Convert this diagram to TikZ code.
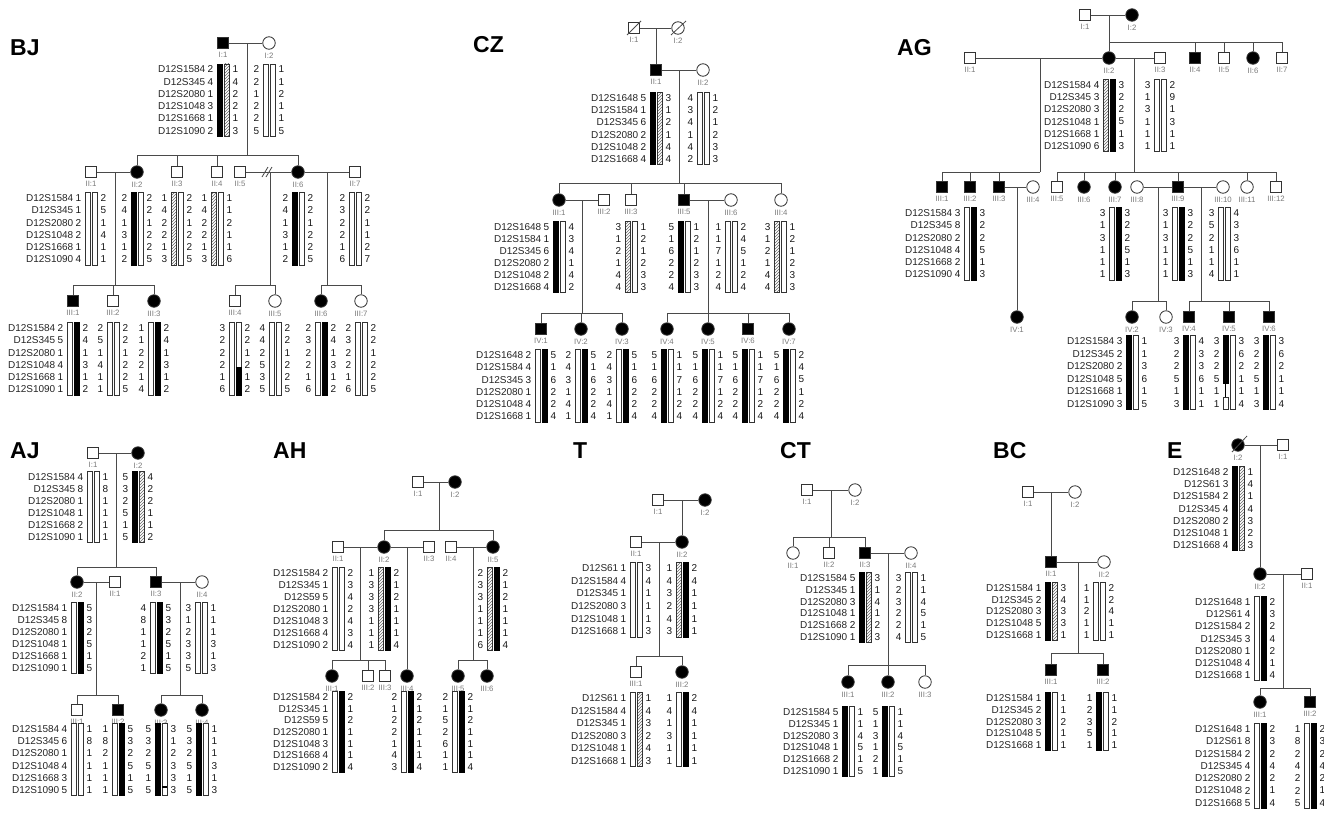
\documentclass[tikz,border=0pt]{standalone}
\usepackage{fontspec}
\setmainfont{Liberation Sans}
\usepackage{tikz}
\usetikzlibrary{patterns}
\usepackage{xcolor}
\definecolor{linegray}{HTML}{4A4A4A}
\definecolor{labgray}{HTML}{7A7A7A}

\tikzset{
  link/.style={draw=linegray, line width=0.8pt},
  sq/.style={rectangle, draw=black!80, line width=0.8pt, fill=white, minimum size=11.5pt, inner sep=0pt},
  ci/.style={circle, draw=black!80, line width=0.8pt, fill=white, minimum size=12.5pt, inner sep=0pt},
  aff/.style={fill=black},
  idlab/.style={font=\fontsize{7.8}{7.8}\selectfont, text=labgray, inner sep=0pt, label distance=3pt},
  allele/.style={font=\fontsize{10}{10}\selectfont, inner sep=0pt, text=black!90},
  mkname/.style={font=\fontsize{10}{10}\selectfont, inner sep=0pt, text=black!85, anchor=east},
  ttl/.style={font=\fontsize{23}{23}\selectfont\bfseries, anchor=base west, inner sep=0pt},
  wht/.style={draw=black!80, line width=0.6pt, fill=white},
  blk/.style={draw=black, line width=0.6pt, fill=black},
  hat/.style={draw=black!80, line width=0.6pt, pattern=north east lines, pattern color=black!60},
  nobar/.style={draw=none},
}

\def\mkA{D12S1584,D12S345,D12S2080,D12S1048,D12S1668,D12S1090}
\def\mkB{D12S1648,D12S1584,D12S345,D12S2080,D12S1048,D12S1668}
\def\mkC{D12S1584,D12S345,D12S59,D12S2080,D12S1048,D12S1668,D12S1090}
\def\mkD{D12S61,D12S1584,D12S345,D12S2080,D12S1048,D12S1668}
\def\mkE{D12S1584,D12S345,D12S2080,D12S1048,D12S1668}
\def\mkF{D12S1648,D12S61,D12S1584,D12S345,D12S2080,D12S1048,D12S1668}

\newcommand{\person}[5]{\node[#1, label={[idlab]below:{#5}}] (#2) at (#3,#4) {};}
\newcommand{\mks}[3]{\foreach \m [count=\i from 0] in #3 {\node[mkname] at (#1-17.5,#2+\i*\hrow) {\m};}}
\newcommand{\hap}[6]{%
  \draw[#3] (#1-6,#2-5.5) rectangle (#1-1,#2+\nrow*\hrow-\hrow+5.5);
  \draw[#4] (#1+1,#2-5.5) rectangle (#1+6,#2+\nrow*\hrow-\hrow+5.5);
  \foreach \a [count=\i from 0] in {#5} {\node[allele, anchor=east] at (#1-9.5,#2+\i*\hrow) {\a};}
  \foreach \a [count=\i from 0] in {#6} {\node[allele, anchor=west] at (#1+9.5,#2+\i*\hrow) {\a};}
}

\begin{document}
\begin{tikzpicture}[x=1pt, y=-1pt]
\path[fill=white] (0,0) rectangle (1324,814);
\useasboundingbox (0,0) rectangle (1324,814);

% BJ
\node[ttl] (bjT) at (10,55) {BJ};
\def\nrow{6}\def\hrow{12.3}
\coordinate (bjm1) at (247,43); \coordinate (bjs1) at (247,155);
\coordinate (bjm2) at (115,172); \coordinate (bjs2) at (115,285);
\coordinate (bjm3) at (270,172); \coordinate (bjs3) at (270,285);
\coordinate (bjm4) at (327,172); \coordinate (bjs4) at (327,285);
\person{sq,aff}{bjI1}{223}{43}{I:1}
\person{ci}{bjI2}{269}{43}{I:2}
\draw[link] (bjI1) -- (bjI2);
\draw[link] (bjm1) -- (bjs1);
\mks{223}{69.3}{\mkA}
\hap{223}{69.3}{blk}{hat}{2,4,1,3,1,2}{1,4,2,2,1,3}
\hap{269}{69.3}{wht}{wht}{2,2,1,2,2,5}{1,1,2,1,1,5}
\person{sq}{bjII1}{91}{172}{II:1}
\person{ci,aff}{bjII2}{137}{172}{II:2}
\person{sq}{bjII3}{177}{172}{II:3}
\person{sq}{bjII4}{217}{172}{II:4}
\person{sq}{bjII5}{240}{172}{II:5}
\person{ci,aff}{bjII6}{298}{172}{II:6}
\person{sq}{bjII7}{355}{172}{II:7}
\foreach \c in {bjII2,bjII3,bjII4,bjII6} \draw[link] (\c.north) |- (bjs1);
\draw[link] (bjII1) -- (bjII2);
\draw[link] (bjII5) -- (bjII6);
\draw[link] (bjII6) -- (bjII7);
\draw[link] (262,177) -- (268,167) (266,177) -- (272,167);
\draw[link] (bjm2) -- (bjs2);
\draw[link] (bjm3) -- (bjs3);
\draw[link] (bjm4) -- (bjs4);
\mks{91}{198}{\mkA}
\hap{91}{198}{wht}{wht}{1,1,2,2,1,4}{2,5,1,4,1,1}
\hap{137}{198}{blk}{wht}{2,4,1,3,1,2}{2,2,1,2,2,5}
\hap{177}{198}{hat}{wht}{1,4,2,2,1,3}{2,2,1,2,2,5}
\hap{217}{198}{hat}{wht}{1,4,2,2,1,3}{1,1,2,1,1,6}
\hap{298}{198}{blk}{wht}{2,4,1,3,1,2}{2,2,1,2,2,5}
\hap{355}{198}{wht}{wht}{2,3,2,2,1,6}{2,2,1,1,2,7}
\person{sq,aff}{bjIII1}{73}{301}{III:1}
\person{sq}{bjIII2}{113}{301}{III:2}
\person{ci,aff}{bjIII3}{154}{301}{III:3}
\person{sq}{bjIII4}{235}{301}{III:4}
\person{ci}{bjIII5}{275}{301}{III:5}
\person{ci,aff}{bjIII6}{321}{301}{III:6}
\person{ci}{bjIII7}{361}{301}{III:7}
\foreach \c in {bjIII1,bjIII2,bjIII3} \draw[link] (\c.north) |- (bjs2);
\foreach \c in {bjIII4,bjIII5} \draw[link] (\c.north) |- (bjs3);
\foreach \c in {bjIII6,bjIII7} \draw[link] (\c.north) |- (bjs4);
\mks{73}{328}{\mkA}
\hap{73}{328}{wht}{blk}{2,5,1,4,1,1}{2,4,1,3,1,2}
\hap{113}{328}{wht}{wht}{2,5,1,4,1,1}{2,2,1,2,2,5}
\hap{154}{328}{wht}{blk}{1,1,2,2,1,4}{2,4,1,3,1,2}
\hap{235}{328}{wht}{wht}{3,2,2,2,1,6}{2,2,1,2,1,2}
\draw[blk] (236,367) rectangle (241,395);
\hap{275}{328}{wht}{wht}{4,4,2,5,3,5}{2,2,1,2,2,5}
\hap{321}{328}{wht}{blk}{2,3,2,2,1,6}{2,4,1,3,1,2}
\hap{361}{328}{wht}{wht}{2,3,2,2,1,6}{2,2,1,2,2,5}

% CZ
\node[ttl] (czT) at (473,52) {CZ};
\def\hrow{12.2}
\coordinate (czm1) at (656,28);
\coordinate (czm2) at (679,70); \coordinate (czs2) at (679,183);
\coordinate (czm3) at (582,200); \coordinate (czs3) at (582,313);
\coordinate (czm4) at (708,200); \coordinate (czs4) at (708,313);
\person{sq}{czI1}{634}{28}{I:1}
\person{ci}{czI2}{678}{28}{I:2}
\draw[link] (czI1) -- (czI2);
\draw[link] (627,35) -- (641,21) (671,35) -- (686,21);
\person{sq,aff}{czII1}{656}{70}{II:1}
\person{ci}{czII2}{703}{70}{II:2}
\draw[link] (czm1) -- (czII1);
\draw[link] (czII1) -- (czII2);
\draw[link] (czm2) -- (czs2);
\mks{656}{98}{\mkB}
\hap{656}{98}{blk}{hat}{5,1,6,2,2,4}{3,1,2,1,4,4}
\hap{703}{98}{wht}{wht}{4,3,4,1,4,2}{1,2,1,2,3,3}
\person{ci,aff}{czIII1}{559}{200}{III:1}
\person{sq}{czIII2}{604}{200}{III:2}
\person{sq}{czIII3}{631}{200}{III:3}
\person{sq,aff}{czIII5}{684}{200}{III:5}
\person{ci}{czIII6}{731}{200}{III:6}
\person{ci}{czIII4}{781}{200}{III:4}
\foreach \c in {czIII1,czIII3,czIII5,czIII4} \draw[link] (\c.north) |- (czs2);
\draw[link] (czIII1) -- (czIII2);
\draw[link] (czIII5) -- (czIII6);
\draw[link] (czm3) -- (czs3);
\draw[link] (czm4) -- (czs4);
\def\hrow{12}
\mks{559}{227}{\mkB}
\hap{559}{227}{blk}{wht}{5,1,6,2,2,4}{4,3,4,1,4,2}
\hap{631}{227}{hat}{wht}{3,1,2,1,4,4}{1,2,1,2,3,3}
\hap{684}{227}{blk}{wht}{5,1,6,2,2,4}{1,2,1,2,3,3}
\hap{731}{227}{wht}{wht}{1,1,7,1,2,4}{2,4,5,1,2,4}
\hap{780}{227}{hat}{wht}{3,1,2,1,4,4}{1,2,1,2,3,3}
\person{sq,aff}{czIV1}{541}{329}{IV:1}
\person{ci,aff}{czIV2}{581}{329}{IV:2}
\person{ci,aff}{czIV3}{622}{329}{IV:3}
\person{ci,aff}{czIV4}{667}{329}{IV:4}
\person{ci,aff}{czIV5}{708}{329}{IV:5}
\person{sq,aff}{czIV6}{748}{329}{IV:6}
\person{ci,aff}{czIV7}{789}{329}{IV:7}
\foreach \c in {czIV1,czIV2,czIV3} \draw[link] (\c.north) |- (czs3);
\foreach \c in {czIV4,czIV5,czIV6,czIV7} \draw[link] (\c.north) |- (czs4);
\def\hrow{12.3}
\mks{541}{355}{\mkB}
\hap{541}{355}{wht}{blk}{2,4,3,1,4,1}{5,1,6,2,2,4}
\hap{581}{355}{wht}{blk}{2,4,3,1,4,1}{5,1,6,2,2,4}
\hap{622}{355}{wht}{blk}{2,4,3,1,4,1}{5,1,6,2,2,4}
\hap{667}{355}{blk}{wht}{5,1,6,2,2,4}{1,1,7,1,2,4}
\hap{708}{355}{blk}{wht}{5,1,6,2,2,4}{1,1,7,1,2,4}
\hap{748}{355}{blk}{wht}{5,1,6,2,2,4}{1,1,7,1,2,4}
\hap{789}{355}{blk}{wht}{5,1,6,2,2,4}{2,4,5,1,2,4}

% AG
\node[ttl] (agT) at (897,55) {AG};
\def\hrow{12.2}
\coordinate (agm1) at (1109,15); \coordinate (ags1) at (1109,42);
\coordinate (agm2) at (1040,58); \coordinate (ags2) at (1040,172);
\coordinate (agm3) at (1134,58); \coordinate (ags3) at (1134,172);
\coordinate (agm4) at (1017,187);
\coordinate (agm5) at (1158,187); \coordinate (ags5) at (1158,301);
\coordinate (agm6) at (1201,187); \coordinate (ags6) at (1201,301);
\person{sq}{agI1}{1085}{15}{I:1}
\person{ci,aff}{agI2}{1132}{15}{I:2}
\draw[link] (agI1) -- (agI2);
\draw[link] (agm1) -- (ags1);
\person{sq}{agII1}{970}{58}{II:1}
\person{ci,aff}{agII2}{1109}{58}{II:2}
\person{sq}{agII3}{1160}{58}{II:3}
\person{sq,aff}{agII4}{1195}{58}{II:4}
\person{sq}{agII5}{1224}{58}{II:5}
\person{ci,aff}{agII6}{1253}{58}{II:6}
\person{sq}{agII7}{1282}{58}{II:7}
\foreach \c in {agII2,agII4,agII5,agII6,agII7} \draw[link] (\c.north) |- (ags1);
\draw[link] (agII1) -- (agII2);
\draw[link] (agII2) -- (agII3);
\draw[link] (agm2) -- (ags2);
\draw[link] (agm3) -- (ags3);
\mks{1109}{85}{\mkA}
\hap{1109}{85}{hat}{blk}{4,3,3,1,1,6}{3,2,2,5,1,3}
\hap{1160}{85}{wht}{wht}{3,1,3,1,1,1}{2,9,1,3,1,1}
\person{sq,aff}{agIII1}{942}{187}{III:1}
\person{sq,aff}{agIII2}{970}{187}{III:2}
\person{sq,aff}{agIII3}{999}{187}{III:3}
\person{ci}{agIII4}{1033}{187}{III:4}
\person{sq}{agIII5}{1057}{187}{III:5}
\person{ci,aff}{agIII6}{1084}{187}{III:6}
\person{ci,aff}{agIII7}{1115}{187}{III:7}
\person{ci}{agIII8}{1137}{187}{III:8}
\person{sq,aff}{agIII9}{1178}{187}{III:9}
\person{ci}{agIII10}{1223}{187}{III:10}
\person{ci}{agIII11}{1247}{187}{III:11}
\person{sq}{agIII12}{1276}{187}{III:12}
\foreach \c in {agIII1,agIII2,agIII3} \draw[link] (\c.north) |- (ags2);
\foreach \c in {agIII5,agIII6,agIII7,agIII9,agIII11,agIII12} \draw[link] (\c.north) |- (ags3);
\draw[link] (agIII3) -- (agIII4);
\draw[link] (agIII8) -- (agIII9);
\draw[link] (agIII9) -- (agIII10);
\def\hrow{12.3}
\mks{970}{213}{\mkA}
\hap{970}{213}{wht}{blk}{3,8,2,4,2,4}{3,2,2,5,1,3}
\hap{1115}{213}{wht}{blk}{3,1,3,1,1,1}{3,2,2,5,1,3}
\hap{1178}{213}{wht}{blk}{3,1,3,1,1,1}{3,2,2,5,1,3}
\hap{1224}{213}{wht}{wht}{3,5,2,1,1,4}{4,3,3,6,1,1}
\person{ci,aff}{agIV1}{1017}{317}{IV:1}
\person{ci,aff}{agIV2}{1132}{317}{IV:2}
\person{ci}{agIV3}{1166}{317}{IV:3}
\person{sq,aff}{agIV4}{1189}{317}{IV:4}
\person{sq,aff}{agIV5}{1229}{317}{IV:5}
\person{sq,aff}{agIV6}{1269}{317}{IV:6}
\draw[link] (agm4) -- (agIV1);
\draw[link] (agm5) -- (ags5);
\draw[link] (agm6) -- (ags6);
\foreach \c in {agIV2,agIV3} \draw[link] (\c.north) |- (ags5);
\foreach \c in {agIV4,agIV5,agIV6} \draw[link] (\c.north) |- (ags6);
\def\hrow{12.6}
\mks{1132}{341}{\mkA}
\hap{1132}{341}{blk}{wht}{3,2,2,5,1,3}{1,1,3,6,1,5}
\hap{1189}{341}{blk}{wht}{3,2,2,5,1,3}{4,3,3,6,1,1}
\hap{1229}{341}{nobar}{wht}{3,2,2,5,1,1}{3,6,2,1,1,4}
\draw[blk] (1223,335.5) rectangle (1228,383);
\draw[line width=0.6pt] (1225.5,383) -- (1225.5,397);
\draw[wht] (1223,397) rectangle (1228,409.5);
\hap{1269}{341}{blk}{wht}{3,2,2,5,1,3}{3,6,2,1,1,4}

% AJ
\node[ttl] (ajT) at (10,458) {AJ};
\def\nrow{6}\def\hrow{12}
\coordinate (ajm1) at (116,453); \coordinate (ajs1) at (116,567);
\coordinate (ajm2) at (96,582); \coordinate (ajs2) at (96,695);
\coordinate (ajm3) at (180,582); \coordinate (ajs3) at (180,695);
\person{sq}{ajI1}{93}{453}{I:1}
\person{ci,aff}{ajI2}{138}{453}{I:2}
\draw[link] (ajI1) -- (ajI2);
\draw[link] (ajm1) -- (ajs1);
\mks{93}{477}{\mkA}
\hap{93}{477}{wht}{wht}{4,8,1,1,2,1}{1,8,1,1,1,1}
\hap{138}{477}{blk}{hat}{5,3,2,5,1,5}{4,2,2,1,1,2}
\person{ci,aff}{ajII2}{77}{582}{II:2}
\person{sq}{ajII1}{115}{582}{II:1}
\person{sq,aff}{ajII3}{156}{582}{II:3}
\person{ci}{ajII4}{202}{582}{II:4}
\foreach \c in {ajII2,ajII3} \draw[link] (\c.north) |- (ajs1);
\draw[link] (ajII2) -- (ajII1);
\draw[link] (ajII3) -- (ajII4);
\draw[link] (ajm2) -- (ajs2);
\draw[link] (ajm3) -- (ajs3);
\mks{77}{608}{\mkA}
\hap{77}{608}{wht}{blk}{1,8,1,1,1,1}{5,3,2,5,1,5}
\hap{156}{608}{wht}{blk}{4,8,1,1,2,1}{5,3,2,5,1,5}
\hap{201}{608}{wht}{wht}{3,1,2,3,3,5}{1,1,1,3,1,3}
\person{sq}{ajIII1}{77}{710}{III:1}
\person{sq,aff}{ajIII2}{118}{710}{III:2}
\person{ci,aff}{ajIII3}{161}{710}{III:3}
\person{ci,aff}{ajIII4}{202}{710}{III:4}
\foreach \c in {ajIII1,ajIII2} \draw[link] (\c.north) |- (ajs2);
\foreach \c in {ajIII3,ajIII4} \draw[link] (\c.north) |- (ajs3);
\def\hrow{12.2}
\mks{77}{729}{\mkA}
\hap{77}{729}{wht}{wht}{4,6,1,4,3,5}{1,8,1,1,1,1}
\hap{118}{729}{wht}{blk}{1,8,2,1,1,1}{5,3,2,5,1,5}
\hap{161}{729}{blk}{wht}{5,3,2,5,1,5}{3,1,2,3,3,3}
\draw[line width=1.2pt] (162,787) -- (167,787);
\hap{202}{729}{blk}{wht}{5,3,2,5,1,5}{1,1,1,3,1,3}

% AH
\node[ttl] (ahT) at (273,458) {AH};
\def\nrow{7}\def\hrow{12}
\coordinate (ahm1) at (439,482); \coordinate (ahs1) at (439,530);
\coordinate (ahm2) at (360,547); \coordinate (ahs2) at (360,660);
\coordinate (ahm3) at (407,547);
\coordinate (ahm4) at (473,547); \coordinate (ahs4) at (473,660);
\person{sq}{ahI1}{418}{482}{I:1}
\person{ci,aff}{ahI2}{455}{482}{I:2}
\draw[link] (ahI1) -- (ahI2);
\draw[link] (ahm1) -- (ahs1);
\person{sq}{ahII1}{338}{547}{II:1}
\person{ci,aff}{ahII2}{384}{547}{II:2}
\person{sq}{ahII3}{429}{547}{II:3}
\person{sq}{ahII4}{451}{547}{II:4}
\person{ci,aff}{ahII5}{493}{547}{II:5}
\foreach \c in {ahII2,ahII5} \draw[link] (\c.north) |- (ahs1);
\draw[link] (ahII1) -- (ahII2);
\draw[link] (ahII2) -- (ahII3);
\draw[link] (ahII4) -- (ahII5);
\draw[link] (ahm2) -- (ahs2);
\draw[link] (ahm4) -- (ahs4);
\mks{338}{573}{\mkC}
\hap{338}{573}{wht}{wht}{2,1,5,1,3,4,2}{2,3,4,2,4,3,4}
\hap{384}{573}{hat}{blk}{1,3,3,3,1,1,1}{2,1,2,1,1,1,4}
\hap{493}{573}{hat}{blk}{2,3,3,1,1,1,6}{2,1,2,1,1,1,4}
\person{ci,aff}{ahIII1}{332}{676}{III:1}
\person{sq}{ahIII2}{368}{676}{III:2}
\person{sq}{ahIII3}{385}{676}{III:3}
\person{ci,aff}{ahIII4}{407}{676}{III:4}
\person{ci,aff}{ahIII5}{458}{676}{III:5}
\person{ci,aff}{ahIII6}{487}{676}{III:6}
\foreach \c in {ahIII1,ahIII2,ahIII3} \draw[link] (\c.north) |- (ahs2);
\draw[link] (ahm3) -- (ahIII4);
\foreach \c in {ahIII5,ahIII6} \draw[link] (\c.north) |- (ahs4);
\def\hrow{11.7}
\mks{338}{697}{\mkC}
\hap{338}{697}{wht}{blk}{2,1,5,1,3,4,2}{2,1,2,1,1,1,4}
\hap{407}{697}{wht}{blk}{2,1,2,2,1,4,3}{2,1,2,1,1,1,4}
\hap{458}{697}{wht}{blk}{2,1,5,2,6,1,1}{2,1,2,1,1,1,4}

% T
\node[ttl] (tT) at (573,458) {T};
\def\nrow{6}\def\hrow{12.7}
\coordinate (tm1) at (682,500);
\coordinate (tm2) at (659,542); \coordinate (ts2) at (659,656);
\person{sq}{tI1}{658}{500}{I:1}
\person{ci,aff}{tI2}{705}{500}{I:2}
\draw[link] (tI1) -- (tI2);
\person{sq}{tII1}{636}{542}{II:1}
\person{ci,aff}{tII2}{682}{542}{II:2}
\draw[link] (tm1) -- (tII2);
\draw[link] (tII1) -- (tII2);
\draw[link] (tm2) -- (ts2);
\mks{636}{568}{\mkD}
\hap{636}{568}{wht}{wht}{1,4,1,3,1,1}{3,4,1,1,1,3}
\hap{682}{568}{hat}{blk}{1,4,3,2,4,3}{2,4,1,1,1,1}
\person{sq}{tIII1}{636}{672}{III:1}
\person{ci,aff}{tIII2}{682}{672}{III:2}
\foreach \c in {tIII1,tIII2} \draw[link] (\c.north) |- (ts2);
\def\hrow{12.6}
\mks{636}{698}{\mkD}
\hap{636}{698}{wht}{hat}{1,4,1,3,1,1}{1,4,3,2,4,3}
\hap{682}{698}{wht}{blk}{1,4,1,3,1,1}{2,4,1,1,1,1}

% CT
\node[ttl] (ctT) at (780,458) {CT};
\def\hrow{11.8}
\coordinate (ctm1) at (831,490); \coordinate (cts1) at (831,537);
\coordinate (ctm2) at (888,553); \coordinate (cts2) at (888,665);
\person{sq}{ctI1}{807}{490}{I:1}
\person{ci}{ctI2}{855}{490}{I:2}
\draw[link] (ctI1) -- (ctI2);
\draw[link] (ctm1) -- (cts1);
\person{ci}{ctII1}{793}{553}{II:1}
\person{sq}{ctII2}{829}{553}{II:2}
\person{sq,aff}{ctII3}{865}{553}{II:3}
\person{ci}{ctII4}{911}{553}{II:4}
\foreach \c in {ctII1,ctII2,ctII3} \draw[link] (\c.north) |- (cts1);
\draw[link] (ctII3) -- (ctII4);
\draw[link] (ctm2) -- (cts2);
\mks{865}{578}{\mkA}
\hap{865}{578}{blk}{hat}{5,1,3,1,2,1}{3,1,4,1,2,3}
\hap{911}{578}{wht}{wht}{3,2,3,2,2,4}{1,1,4,5,1,5}
\person{ci,aff}{ctIII1}{848}{682}{III:1}
\person{ci,aff}{ctIII2}{888}{682}{III:2}
\person{ci}{ctIII3}{925}{682}{III:3}
\foreach \c in {ctIII1,ctIII2,ctIII3} \draw[link] (\c.north) |- (cts2);
\mks{848}{712}{\mkA}
\hap{848}{712}{blk}{wht}{5,1,3,1,2,1}{1,1,4,5,1,5}
\hap{888}{712}{blk}{wht}{5,1,3,1,2,1}{1,1,4,5,1,5}

% BC
\node[ttl] (bcT) at (993,458) {BC};
\def\nrow{5}\def\hrow{11.7}
\coordinate (bcm1) at (1051,492);
\coordinate (bcm2) at (1078,562); \coordinate (bcs2) at (1078,653);
\person{sq}{bcI1}{1028}{492}{I:1}
\person{ci}{bcI2}{1075}{492}{I:2}
\draw[link] (bcI1) -- (bcI2);
\person{sq,aff}{bcII1}{1051}{562}{II:1}
\person{ci}{bcII2}{1104}{562}{II:2}
\draw[link] (bcm1) -- (bcII1);
\draw[link] (bcII1) -- (bcII2);
\draw[link] (bcm2) -- (bcs2);
\mks{1051}{588}{\mkE}
\hap{1051}{588}{blk}{hat}{1,2,3,5,1}{3,4,3,3,1}
\hap{1099}{588}{wht}{wht}{1,1,2,1,1}{2,2,4,1,1}
\person{sq,aff}{bcIII1}{1051}{670}{III:1}
\person{sq,aff}{bcIII2}{1103}{670}{III:2}
\foreach \c in {bcIII1,bcIII2} \draw[link] (\c.north) |- (bcs2);
\def\hrow{11.8}
\mks{1051}{698}{\mkE}
\hap{1051}{698}{blk}{wht}{1,2,3,5,1}{1,1,2,1,1}
\hap{1102}{698}{blk}{wht}{1,2,3,5,1}{1,1,2,1,1}

% E
\node[ttl] (eT) at (1167,458) {E};
\def\nrow{7}\def\hrow{12.2}
\coordinate (em1) at (1260,445);
\coordinate (em2) at (1283,574); \coordinate (es2) at (1283,688);
\person{ci,aff}{eI2}{1238}{445}{I:2}
\person{sq}{eI1}{1283}{445}{I:1}
\draw[link] (eI2) -- (eI1);
\draw[link] (1232,452) -- (1247,436);
\mks{1238}{472}{\mkF}
\hap{1238}{472}{blk}{hat}{2,3,2,4,2,1,4}{1,4,1,4,3,2,3}
\person{ci,aff}{eII2}{1260}{574}{II:2}
\person{sq}{eII1}{1307}{574}{II:1}
\draw[link] (em1) -- (eII2);
\draw[link] (eII2) -- (eII1);
\draw[link] (em2) -- (es2);
\mks{1260}{602}{\mkF}
\hap{1260}{602}{wht}{blk}{1,4,2,3,1,4,1}{2,3,2,4,2,1,4}
\person{ci,aff}{eIII1}{1260}{702}{III:1}
\person{sq,aff}{eIII2}{1310}{702}{III:2}
\foreach \c in {eIII1,eIII2} \draw[link] (\c.north) |- (es2);
\def\hrow{12.3}
\mks{1260}{729}{\mkF}
\hap{1260}{729}{wht}{blk}{1,8,2,4,2,2,5}{2,3,2,4,2,1,4}
\hap{1310}{729}{wht}{blk}{1,8,2,4,2,2,5}{2,3,2,4,2,1,4}
\end{tikzpicture}
\end{document}
